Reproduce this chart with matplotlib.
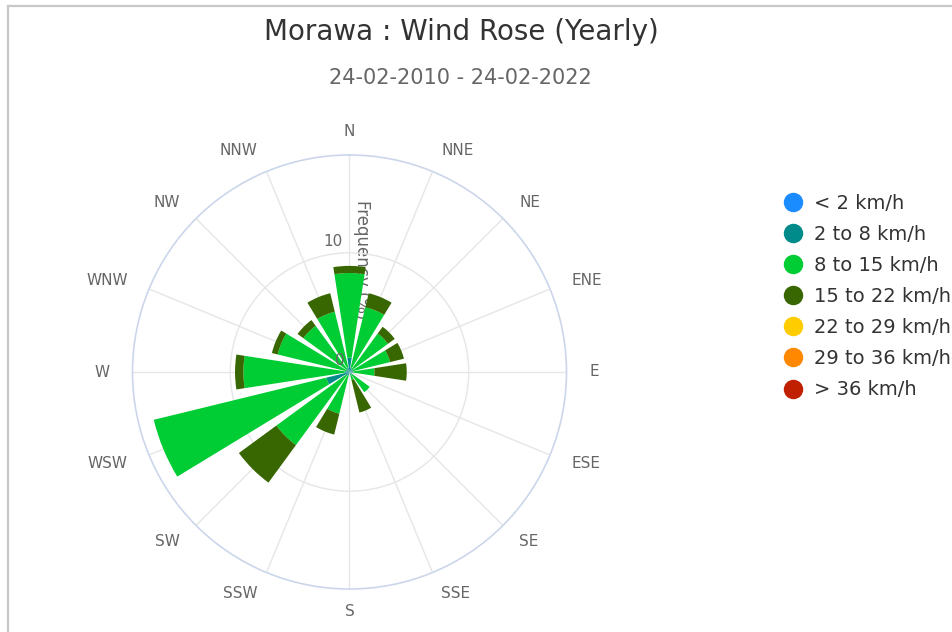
import numpy as np
import matplotlib
matplotlib.use("Agg")
import matplotlib.pyplot as plt
from matplotlib.lines import Line2D

plt.rcParams['font.family'] = ['DejaVu Sans']

directions = ["N", "NNE", "NE", "ENE", "E", "ESE", "SE", "SSE",
              "S", "SSW", "SW", "WSW", "W", "WNW", "NW", "NNW"]

speed_bins = ["< 2 km/h", "2 to 8 km/h", "8 to 15 km/h", "15 to 22 km/h",
              "22 to 29 km/h", "29 to 36 km/h", "> 36 km/h"]
bin_colors = ["#1a8cff", "#008b8b", "#00cc33", "#386600",
              "#ffcc00", "#ff8800", "#c02000"]

# frequency (%) per direction for each speed bin
below_2 = [0.0, 0.0, 0.0, 0.0, 0.0, 0.0, 0.0, 0.0, 0.0, 0.0, 0.0, 0.0, 0.0, 0.0, 0.0, 0.0]
from_2_to_8 = [1.2, 0.4, 0.3, 0.3, 0.3, 0.0, 0.3, 0.2, 0.0, 0.3, 0.4, 2.0, 0.4, 0.3, 0.3, 0.4]
from_8_to_15 = [7.1, 5.2, 3.7, 3.2, 1.8, 0.0, 1.8, 0.5, 0.0, 3.3, 7.2, 14.9, 8.5, 5.9, 4.5, 4.8]
from_15_to_22 = [0.6, 1.2, 0.7, 1.2, 2.7, 0.0, 0.0, 2.8, 0.0, 1.8, 3.9, 0.0, 0.7, 0.5, 0.6, 1.6]
from_22_to_29 = [0.0] * 16
from_29_to_36 = [0.0] * 16
above_36 = [0.0] * 16

series = [below_2, from_2_to_8, from_8_to_15, from_15_to_22,
          from_22_to_29, from_29_to_36, above_36]

r_max = 18.2
radial_ticks = [0, 10]

W, H = 953, 632
fig = plt.figure(figsize=(W / 100, H / 100), dpi=100)
fig.patch.set_facecolor("white")

# frame lines (top and left) as in the reference
fig.add_artist(Line2D([8 / W, 1], [1 - 6 / H, 1 - 6 / H], color="#c8c8c8", lw=1.6))
fig.add_artist(Line2D([8 / W, 8 / W], [0, 1 - 6 / H], color="#c8c8c8", lw=1.6))

cx, cy, rad = 349.5, 372, 217
ax = fig.add_axes([(cx - rad) / W, (H - cy - rad) / H, 2 * rad / W, 2 * rad / H],
                  projection="polar")
ax.set_theta_zero_location("N")
ax.set_theta_direction(-1)
ax.set_ylim(0, r_max)

n = len(directions)
theta = np.arange(n) * 2 * np.pi / n
width = 0.78 * 2 * np.pi / n

ax.set_xticks(theta)
ax.set_xticklabels([])
ax.set_yticks(radial_ticks)
ax.set_yticklabels([])
ax.grid(True, color="#e6e6e6", lw=1.0)
ax.tick_params(length=0)
ax.spines["polar"].set_color("#ccd6eb")
ax.spines["polar"].set_linewidth(1.2)

bottom = np.zeros(n)
for vals, col in zip(series, bin_colors):
    v = np.array(vals)
    ax.bar(theta, v, width=width, bottom=bottom, color=col, edgecolor="none",
           linewidth=0, zorder=3, align="center")
    bottom = bottom + v

# direction labels
r_lab = r_max * 240 / 217
for t, lab in zip(theta, directions):
    s = np.sin(t)
    if abs(s) < 0.1:
        ha = "center"
    elif s > 0:
        ha = "left"
    else:
        ha = "right"
    ax.text(t, r_lab, lab, ha=ha, va="center", fontsize=11, color="#666666",
            clip_on=False)

# radial labels
for rv in radial_ticks:
    ax.annotate(str(rv), xy=(0, rv), xycoords="data", xytext=(-7 if rv == 0 else -12, 8),
                textcoords="offset points", ha="center", va="center",
                fontsize=11, color="#666666", zorder=5, annotation_clip=False)

# axis title
ax.annotate("Frequency (%)", xy=(0, 9.4), xycoords="data", xytext=(9, 0),
            textcoords="offset points", ha="center", va="center", rotation=270,
            fontsize=12, color="#666666", zorder=1)

fig.text(461 / W, 1 - 32 / H, "Morawa : Wind Rose (Yearly)", ha="center", va="center",
         fontsize=20, color="#333333")
fig.text(460 / W, 1 - 78 / H, "24-02-2010 - 24-02-2022", ha="center", va="center",
         fontsize=15, color="#666666")

handles = [Line2D([0], [0], marker="o", linestyle="none", markersize=13,
                  markerfacecolor=c, markeredgecolor=c) for c in bin_colors]
leg = fig.legend(handles, speed_bins, loc="upper left",
                 bbox_to_anchor=(783 / W, 1 - 194 / H), frameon=False,
                 fontsize=14, handlelength=1.0, handletextpad=0.6,
                 labelspacing=0.62, borderaxespad=0, borderpad=0)
for t in leg.get_texts():
    t.set_color("#333333")

fig.savefig("out.png", dpi=100, facecolor="white")
